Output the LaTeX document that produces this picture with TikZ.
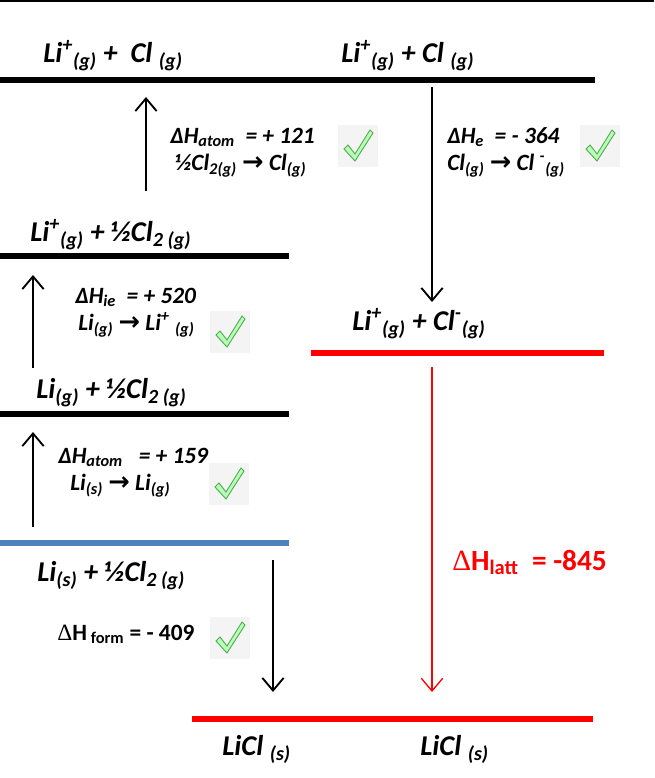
\documentclass[tikz,border=0pt]{standalone}
\usepackage{fontspec}
\setmainfont{Carlito}
\newfontfamily\arrfont{DejaVu Sans}
\newfontfamily\symfont{Liberation Serif}
\usetikzlibrary{arrows.meta}
\newcommand\sbs[1]{\textsubscript{#1}}
\newcommand\sps[1]{\textsuperscript{#1}}
\newcommand\rar{{\arrfont\bfseries\upshape\scalebox{1.1}{→}}}
\newcommand\dlt{{\symfont\mdseries\upshape Δ}}
\tikzset{
  x=0.75pt, y=-0.75pt,
  lvl/.style={line width=3.8pt},
  state/.style={font=\fontsize{21.5}{25}\selectfont\bfseries\itshape, inner sep=0pt, anchor=base west},
  dh/.style={font=\fontsize{17.5}{21}\selectfont\bfseries\itshape, inner sep=0pt, anchor=base west},
  arr/.style={-{Straight Barb[length=9.5pt,width=16pt,line width=1.4pt]}, line width=1.5pt},
  tick/.pic={
    \fill[gray!9] (-20,-21) rectangle (20,21);
    \filldraw[fill=green!28!white, draw=green!35!gray, line width=0.7pt]
      (-14,3) -- (-3,15) -- (15,-13) -- (12,-16) -- (-3,8) -- (-10,-1) -- cycle;
  }
}
\begin{document}
\begin{tikzpicture}
\useasboundingbox (0,0) rectangle (654,778);
% top thin rule
\coordinate (r0) at (0,0.8); \coordinate (r1) at (654,0.8);
\draw[line width=1.2pt] (r0) -- (r1);
% levels
\coordinate (L1a) at (0,80);   \coordinate (L1b) at (595,80);
\coordinate (L2a) at (0,256);  \coordinate (L2b) at (289,256);
\coordinate (L3a) at (0,414);  \coordinate (L3b) at (289,414);
\coordinate (L4a) at (0,543);  \coordinate (L4b) at (289,543);
\coordinate (R1a) at (311,353); \coordinate (R1b) at (604,353);
\coordinate (R2a) at (192,719); \coordinate (R2b) at (593,719);
\draw[lvl] (L1a) -- (L1b);
\draw[lvl] (L2a) -- (L2b);
\draw[lvl] (L3a) -- (L3b);
\draw[lvl, draw={rgb,255:red,79;green,129;blue,189}] (L4a) -- (L4b);
\draw[lvl, red] (R1a) -- (R1b);
\draw[lvl, red] (R2a) -- (R2b);
% arrows
\coordinate (a1s) at (146,191); \coordinate (a1e) at (146,97);
\coordinate (a2s) at (432,87);  \coordinate (a2e) at (432,302);
\coordinate (a3s) at (33,368);  \coordinate (a3e) at (33,275);
\coordinate (a4s) at (33,527);  \coordinate (a4e) at (33,432);
\coordinate (a5s) at (273,560); \coordinate (a5e) at (273,692);
\coordinate (a6s) at (432,367); \coordinate (a6e) at (432,692);
\draw[arr] (a1s) -- (a1e);
\draw[arr] (a2s) -- (a2e);
\draw[arr] (a3s) -- (a3e);
\draw[arr] (a4s) -- (a4e);
\draw[arr] (a5s) -- (a5e);
\draw[arr, red, line width=1pt, -{Straight Barb[length=9.5pt,width=16pt,line width=1pt]}] (a6s) -- (a6e);
% state labels
\node[state] (t1) at (43,62) {Li\sps{+}\sbs{(g)} +~ Cl \sbs{(g)}};
\node[state] (t2) at (341,62) {Li\sps{+}\sbs{(g)} + Cl \sbs{(g)}};
\node[state] (t3) at (30,241) {Li\sps{+}\sbs{(g)} + ½Cl\sbs{2 (g)}};
\node[state] (t4) at (352,330) {Li\sps{+}\sbs{(g)} + Cl\sps{-}\sbs{(g)}};
\node[state] (t5) at (36,398) {Li\sbs{(g)} + ½Cl\sbs{2 (g)}};
\node[state] (t6) at (37,581) {Li\sbs{(s)} + ½Cl\sbs{2 (g)}};
\node[state] (t7) at (222,755) {LiCl \sbs{(s)}};
\node[state] (t8) at (420,755) {LiCl \sbs{(s)}};
% enthalpy labels
\node[dh] (d1a) at (170,143) {ΔH\sbs{atom} ~= + 121};
\node[dh] (d1b) at (175,170) {½Cl\sbs{2(g)} \rar{} Cl\sbs{(g)}};
\node[dh] (d2a) at (447,143) {ΔH\sbs{e} ~= - 364};
\node[dh] (d2b) at (447,170) {Cl\sbs{(g)} \rar{} Cl \sps{-}\sbs{(g)}};
\node[dh] (d3a) at (75,303) {ΔH\sbs{ie} ~= + 520};
\node[dh] (d3b) at (78,330) {Li\sbs{(g)} \rar{} Li\sps{+} \sbs{(g)}};
\node[dh] (d4a) at (58,463) {ΔH\sbs{atom} ~ = + 159};
\node[dh] (d4b) at (70,490) {Li\sbs{(s)} \rar{} Li\sbs{(g)}};
\node[dh, font=\fontsize{17.5}{21}\selectfont\bfseries] (d5) at (57,640) {\dlt H\,\sbs{form} = - 409};
\node[dh, font=\fontsize{22}{26}\selectfont\bfseries, text=red] (d6) at (452,570) {\dlt H\sbs{latt} ~= -845};
% ticks
\pic at (358,146) {tick};
\pic at (600,146) {tick};
\pic at (230,332) {tick};
\pic at (229,484) {tick};
\pic at (230,638) {tick};
\end{tikzpicture}
\end{document}
